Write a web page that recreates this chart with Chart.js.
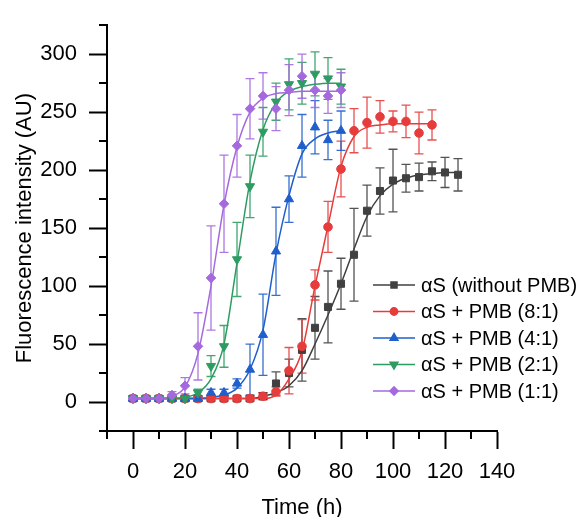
<!DOCTYPE html>
<html>
<head>
<meta charset="utf-8">
<script src="https://cdn.jsdelivr.net/npm/chart.js@4.4.1/dist/chart.umd.min.js"></script>
<style>
html, body { margin: 0; padding: 0; background: #fff; }
canvas { display: block; }
</style>
</head>
<body>
<canvas id="myChart" width="582" height="517"></canvas>
<script>
// time points (h), every 5 h
var times = [0,5,10,15,20,25,30,35,40,45,50,55,60,65,70,75,80,85,90,95,100,105,110,115,120,125];

// measured means and error bars
var blackY   = [3,3,3,3,3,3,3,3,3,3,5,16,25,45,64,82,102,127,165,182,191,193,194,199,198,196];
var blackErr = [2,2,2,2,2,2,2,2,2,2,3,10,12,27,27,31,22,40,22,20,27,12,12,8,13,14];
var redY     = [3,3,3,3,3,3,3,3,3,3,5,9,27,48,101,151,201,234,241,246,242,242,232,239];
var redErr   = [2,2,2,2,2,2,2,2,2,2,3,4,20,23,13,22,24,19,22,14,9,14,18,13];
var blueY    = [3,3,3,3,3,3,8,8,16,28,58,130,175,221,237,226,234];
var blueErr  = [2,2,2,2,2,2,3,3,4,22,35,38,20,27,23,17,17];
var greenY   = [3,3,3,3,3,8,31,48,123,186,233,259,274,275,283,279,272];
var greenErr = [2,2,2,2,2,3,9,18,32,27,21,16,22,18,19,18,15];
var purpleY  = [3,3,3,6,14,48,107,171,221,253,264,253,269,281,269,264,269];
var purpleErr= [2,2,2,3,7,29,45,42,27,26,20,19,22,19,15,15,15];

// fitted curves
var blackFit  = [3,3,3,3,3,3,3,3,3,3,5,8,14,27,50,75,102,132,160,178,188,193,196,197,198,198];
var redFit    = [3,3,3,3,3,3,3,3,3,3,3,6,20,44,100,152,203,229,237,239,240,240,240,240];
var blueFit   = [3,3,3,3,3,3,4,6,12,28,62,128,178,214,227,232,234];
var greenFit  = [3,3,3,3,4,8,20,50,120,190,235,258,268,272,274,275,275];
var purpleFit = [3,3,3,5,13,42,100,170,220,250,262,266,267,268,268,268,268];

var seriesNames = ['\u03b1S (without PMB)', '\u03b1S + PMB (8:1)', '\u03b1S + PMB (4:1)', '\u03b1S + PMB (2:1)', '\u03b1S + PMB (1:1)'];
var xTicks = [0,20,40,60,80,100,120,140];
var yTicks = [0,50,100,150,200,250,300];
var xMinor = [-10,10,30,50,70,90,110,130];
var yMinor = [-25,25,75,125,175,225,275,325];

var FONT = '"Liberation Sans", Arial, sans-serif';
var colors = ['#404040', '#e63c3c', '#1f5fcc', '#2e9c62', '#a569df'];
var styles = [
    { pointStyle: 'rect', radius: 5, rotation: 0 },
    { pointStyle: 'circle', radius: 4.3, rotation: 0 },
    { pointStyle: 'triangle', radius: 5.3, rotation: 0 },
    { pointStyle: 'triangle', radius: 5.3, rotation: 180 },
    { pointStyle: 'rectRot', radius: 4.8, rotation: 0 }
];
var means = [blackY, redY, blueY, greenY, purpleY];
var errs = [blackErr, redErr, blueErr, greenErr, purpleErr];
var fits = [blackFit, redFit, blueFit, greenFit, purpleFit];

function pts(vals) {
    return vals.map(function(v, i) { return { x: times[i], y: v }; });
}

var datasets = [];
for (var i = 0; i < 5; i++) {
    datasets.push({
        label: seriesNames[i] + ' fit',
        data: pts(fits[i]),
        borderColor: colors[i],
        borderWidth: 1.5,
        pointRadius: 0,
        cubicInterpolationMode: 'monotone',
        fill: false,
        order: 20 - i
    });
    datasets.push({
        label: seriesNames[i],
        data: pts(means[i]),
        errors: errs[i],
        showLine: false,
        borderColor: colors[i],
        backgroundColor: colors[i],
        borderWidth: 1,
        pointStyle: styles[i].pointStyle,
        pointRadius: styles[i].radius,
        pointRotation: styles[i].rotation,
        order: 10 - i
    });
}

// vertical error bars with caps
var errorBars = {
    id: 'errorBars',
    beforeDatasetsDraw: function(chart) {
        var ctx = chart.ctx, x = chart.scales.x, y = chart.scales.y;
        chart.data.datasets.forEach(function(ds) {
            if (!ds.errors) return;
            ctx.save();
            ctx.strokeStyle = ds.borderColor;
            ctx.globalAlpha = 0.9;
            ctx.lineWidth = 1.3;
            ds.data.forEach(function(p, j) {
                var e = ds.errors[j];
                var px = x.getPixelForValue(p.x);
                var top = y.getPixelForValue(p.y + e);
                var bot = y.getPixelForValue(p.y - e);
                ctx.beginPath();
                ctx.moveTo(px, top); ctx.lineTo(px, bot);
                ctx.moveTo(px - 4.5, top); ctx.lineTo(px + 4.5, top);
                ctx.moveTo(px - 4.5, bot); ctx.lineTo(px + 4.5, bot);
                ctx.stroke();
            });
            ctx.restore();
        });
    }
};

// minor ticks and the legend with line-through markers
var extras = {
    id: 'extras',
    afterDraw: function(chart) {
        var ctx = chart.ctx, x = chart.scales.x, y = chart.scales.y;
        var area = chart.chartArea;
        ctx.save();
        ctx.strokeStyle = '#000';
        ctx.lineWidth = 2;
        ctx.beginPath();
        xMinor.forEach(function(v) {
            var px = Math.round(x.getPixelForValue(v));
            ctx.moveTo(px, area.bottom); ctx.lineTo(px, area.bottom + 8);
        });
        yMinor.forEach(function(v) {
            var py = Math.round(y.getPixelForValue(v));
            ctx.moveTo(area.left - 8, py); ctx.lineTo(area.left, py);
        });
        ctx.stroke();

        var rowY = [285, 311.5, 338, 364.5, 391];
        ctx.font = '20px ' + FONT;
        ctx.textBaseline = 'middle';
        for (var i = 0; i < 5; i++) {
            ctx.strokeStyle = colors[i];
            ctx.fillStyle = colors[i];
            ctx.lineWidth = 1.5;
            ctx.beginPath();
            ctx.moveTo(373, rowY[i]); ctx.lineTo(415, rowY[i]);
            ctx.stroke();
            Chart.helpers.drawPoint(ctx, {
                pointStyle: styles[i].pointStyle,
                radius: styles[i].radius * 0.85,
                rotation: styles[i].rotation,
                borderWidth: 1
            }, 394, rowY[i]);
            ctx.fillStyle = '#000';
            ctx.fillText(seriesNames[i], 421, rowY[i] + 1);
        }
        ctx.restore();
    }
};

var ctx = document.getElementById('myChart').getContext('2d');
var myChart = new Chart(ctx, {
    type: 'line',
    data: { datasets: datasets },
    plugins: [errorBars, extras],
    options: {
        responsive: false,
        animation: false,
        devicePixelRatio: 1,
        layout: { padding: { top: 20, right: 85, left: 0, bottom: 0 } },
        plugins: { legend: { display: false }, tooltip: { enabled: false } },
        scales: {
            x: {
                type: 'linear',
                min: -10,
                max: 140,
                afterBuildTicks: function(s) { s.ticks = xTicks.map(function(v) { return { value: v }; }); },
                afterFit: function(s) { s.height = 86; },
                ticks: { color: '#000', font: { family: FONT, size: 22 }, padding: 10, maxRotation: 0, autoSkip: false },
                grid: { drawOnChartArea: false, drawTicks: true, tickLength: 18, tickWidth: 2, tickColor: '#000' },
                border: { display: true, color: '#000', width: 2 },
                title: { display: true, text: 'Time (h)', color: '#000', font: { family: FONT, size: 22 }, padding: { top: 0, bottom: -4 } }
            },
            y: {
                type: 'linear',
                min: -25,
                max: 325,
                afterBuildTicks: function(s) { s.ticks = yTicks.map(function(v) { return { value: v }; }); },
                afterFit: function(s) { s.width = 107; },
                ticks: { color: '#000', font: { family: FONT, size: 22 }, padding: 12, autoSkip: false },
                grid: { drawOnChartArea: false, drawTicks: true, tickLength: 18, tickWidth: 2, tickColor: '#000' },
                border: { display: true, color: '#000', width: 2 },
                title: { display: true, text: 'Fluorescence intensity (AU)', color: '#000', font: { family: FONT, size: 22 }, padding: { top: 12, bottom: 10 } }
            }
        }
    }
});
</script>
</body>
</html>
